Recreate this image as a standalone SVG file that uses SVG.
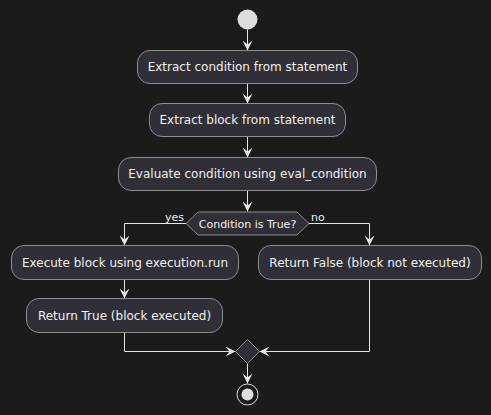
<svg xmlns="http://www.w3.org/2000/svg" width="491" height="415" viewBox="0 0 491 415">
<style>
.bg{fill:#1b1b1b}
.box{fill:#302f37;stroke:#8d8d8d;stroke-width:1}
.t{font-family:"DejaVu Sans",sans-serif;font-size:12px;fill:#f0f0f0;text-anchor:middle}
.lbl{font-family:"DejaVu Sans",sans-serif;font-size:11px;fill:#f0f0f0}
.c{fill:none;stroke:#e6e6e6;stroke-width:1;marker-end:url(#ah)}
</style>
<defs>
<marker id="ah" markerUnits="userSpaceOnUse" markerWidth="11" markerHeight="10" refX="10" refY="5" orient="auto" viewBox="0 0 11 10">
<path d="M0,0 L10,5 L0,10 L4,5 Z" fill="#e6e6e6"/>
</marker>
</defs>
<rect class="bg" x="0" y="0" width="491" height="415"/>
<g id="connectors">
<path class="c" d="M247.5,29.5 V50.5"/>
<path class="c" d="M247.5,83.5 V103.5"/>
<path class="c" d="M247.5,136.5 V157.5"/>
<path class="c" d="M247.5,190.5 V211.5"/>
<path class="c" d="M186,223.5 H124.5 V245.5"/>
<path class="c" d="M309,223.5 H369.5 V245.5"/>
<path class="c" d="M124.5,279.5 V298.5"/>
<path class="c" d="M124.5,332.5 V351.5 H235.5"/>
<path class="c" d="M369.5,279.5 V351.5 H259.5"/>
<path class="c" d="M247.5,363.5 V383.5"/>
<text class="lbl" x="184" y="221" text-anchor="end">yes</text>
<text class="lbl" x="311" y="221">no</text>
</g>
<g id="start"><circle cx="247.5" cy="19.5" r="10" fill="#dddddd"/></g>
<g id="n1"><rect class="box" x="137.5" y="50.5" width="220" height="33" rx="12.5"/><text class="t" x="247.5" y="71.3">Extract condition from statement</text></g>
<g id="n2"><rect class="box" x="149.5" y="103.5" width="196" height="33" rx="12.5"/><text class="t" x="247.5" y="124.3">Extract block from statement</text></g>
<g id="n3"><rect class="box" x="118.5" y="157.5" width="258" height="33" rx="12.5"/><text class="t" x="247.5" y="178.3">Evaluate condition using eval_condition</text></g>
<g id="decision"><polygon class="box" points="186,223.5 198,212 297,212 309,223.5 297,235 198,235"/><text class="lbl" x="247.5" y="227.5" text-anchor="middle">Condition is True?</text></g>
<g id="n4"><rect class="box" x="11.5" y="245.5" width="227" height="34" rx="12.5"/><text class="t" x="125" y="266.8">Execute block using execution.run</text></g>
<g id="n5"><rect class="box" x="258.5" y="245.5" width="223" height="34" rx="12.5"/><text class="t" x="370" y="266.8">Return False (block not executed)</text></g>
<g id="n6"><rect class="box" x="26.5" y="298.5" width="196" height="34" rx="12.5"/><text class="t" x="124.5" y="319.8">Return True (block executed)</text></g>
<g id="merge"><polygon class="box" points="247.5,339.5 259.5,351.5 247.5,363.5 235.5,351.5"/></g>
<g id="end"><circle cx="247.5" cy="394.5" r="10.5" fill="none" stroke="#dddddd" stroke-width="1"/><circle cx="247.5" cy="394.5" r="6" fill="#dddddd"/></g>
</svg>
